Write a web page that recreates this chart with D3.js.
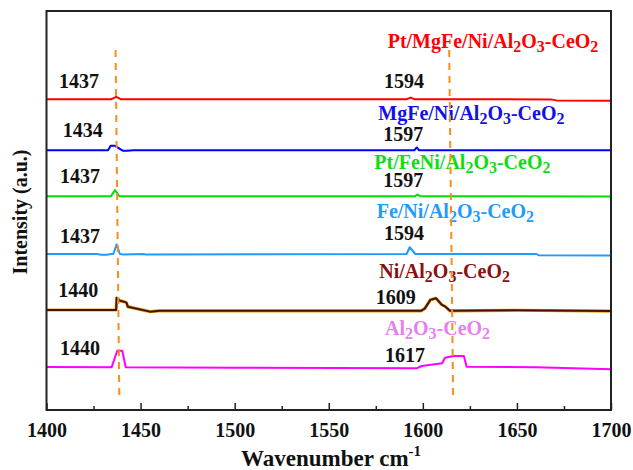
<!DOCTYPE html>
<html>
<head>
<meta charset="utf-8">
<script src="https://cdn.jsdelivr.net/npm/d3@7"></script>
<style>
  body { margin: 0; background: #fff; }
  svg text { font-family: "Liberation Serif", "DejaVu Serif", serif; font-weight: bold; }
</style>
</head>
<body>
<div id="chart"></div>
<script>
// wavenumber axis
const xTicks = [1400, 1450, 1500, 1550, 1600, 1650, 1700];
const xMinorTicks = [1425, 1475, 1525, 1575, 1625, 1675];

// spectra, [wavenumber, intensity (a.u., stacked)]
const ptMgFeNi = [[1400,77.9],[1434.5,77.9],[1437,78.5],[1439.5,77.9],[1591.5,77.9],[1593.5,78.3],[1595.5,77.9],[1668,77.85],[1671,77.6],[1700,77.5]];
const mgFeNi = [[1400,65.1],[1432.7,65.1],[1434.1,66.2],[1436.4,66.2],[1440.5,65.0],[1443,64.95],[1446,65.1],[1595.5,65.1],[1596.8,65.8],[1598,65.1],[1700,65.1]];
const ptFeNi = [[1400,53.6],[1434.3,53.6],[1436.4,55.1],[1438.7,53.6],[1596,53.6],[1597.2,54.0],[1598.5,53.6],[1700,53.5]];
const feNi = [[1400,39.1],[1426.7,39.1],[1429,38.9],[1432,38.9],[1434.5,39.1],[1435.5,39.1],[1437.3,41.5],[1439,39.1],[1441,39.0],[1451,39.1],[1453,39.0],[1591.4,39.1],[1593,40.8],[1596,39.1],[1660.4,39.1],[1661.5,38.8],[1700,38.75]];
const ni = [[1400,25.06],[1437,25.06],[1437.3,28.1],[1439,27.4],[1441.5,27.1],[1442.5,26.9],[1443.2,25.9],[1455,24.65],[1460,24.85],[1599,24.85],[1601,25.4],[1604,27.6],[1607,28.0],[1610,26.4],[1612,25.9],[1614.4,24.85],[1650,25.0],[1700,24.8]];
const alCe = [[1400,10.78],[1434.6,10.7],[1437.6,14.86],[1440.3,14.86],[1442.1,10.7],[1500,10.6],[1596.7,10.45],[1599.4,11.03],[1610.3,11.7],[1611.8,13.1],[1616.2,13.53],[1621.8,13.53],[1623.3,10.85],[1660,10.7],[1700,10.2]];

const seriesData = [ptMgFeNi, mgFeNi, ptFeNi, feNi, ni, alCe];
const seriesNames = [
  ["Pt/MgFe/Ni/Al", "2", "O", "3", "-CeO", "2"],
  ["MgFe/Ni/Al", "2", "O", "3", "-CeO", "2"],
  ["Pt/FeNi/Al", "2", "O", "3", "-CeO", "2"],
  ["Fe/Ni/Al", "2", "O", "3", "-CeO", "2"],
  ["Ni/Al", "2", "O", "3", "-CeO", "2"],
  ["Al", "2", "O", "3", "-CeO", "2"]
];
const leftPeaks = ["1437", "1434", "1437", "1437", "1440", "1440"];
const rightPeaks = ["1594", "1597", "1597", "1594", "1609", "1617"];

// guide lines: wavenumber at top / bottom
const guideTop = [1436.7, 1614];
const guideBottom = [1438.7, 1616.1];
const guideY = [90.2, 3.3];

const lineColors = ["#ff0000", "#0000ff", "#00e000", "#1e9bff", "#4a1000", "#ff00ff"];
const nameColors = ["#ff0000", "#1010e8", "#10dd10", "#1e9bff", "#8b1010", "#e67ff0"];

// layout of annotations (pixels)
const leftPos = [[59,88],[62.7,136.7],[60,182.7],[60,242.7],[58.3,296.7],[60,355]];
const rightPos = [[384,87.7],[383.3,140.7],[383.3,187],[384,240],[375.7,304],[385,361.7]];
const namePos = [[387.7,48.3],[378.3,120],[374.3,169],[376.7,218.3],[379.3,278.3],[385,335]];

const serif = "Liberation Serif, DejaVu Serif, serif";
const width = 633, height = 470;
const margin = {top: 11, right: 22, bottom: 60, left: 46.5};

const svg = d3.select("#chart").append("svg")
  .attr("width", width)
  .attr("height", height)
  .attr("viewBox", [0, 0, width, height])
  .attr("font-family", serif)
  .attr("font-weight", "bold");

const x = d3.scaleLinear([1400, 1700], [margin.left, width - margin.right]);
const y = d3.scaleLinear([0, 100], [height - margin.bottom, margin.top]);

const line = d3.line().x(d => x(d[0])).y(d => y(d[1]));

// spectra
seriesData.forEach((s, i) => {
  if (i === 4) {
    svg.append("path").attr("d", line(s)).attr("fill", "none")
      .attr("stroke", "#d9a21a").attr("stroke-width", 3.2).attr("stroke-linejoin", "round");
  }
  svg.append("path")
    .attr("d", line(s))
    .attr("fill", "none")
    .attr("stroke", lineColors[i])
    .attr("stroke-width", 2)
    .attr("stroke-linejoin", "round");
});

// peak numbers
svg.selectAll(".lp").data(leftPeaks).join("text")
  .attr("x", (d, i) => leftPos[i][0]).attr("y", (d, i) => leftPos[i][1])
  .attr("font-size", 20).attr("fill", "#111").text(d => d);
svg.selectAll(".rp").data(rightPeaks).join("text")
  .attr("x", (d, i) => rightPos[i][0]).attr("y", (d, i) => rightPos[i][1])
  .attr("font-size", 20).attr("fill", "#111").text(d => d);

// sample names with subscripts
seriesNames.forEach((parts, i) => {
  const t = svg.append("text")
    .attr("x", namePos[i][0]).attr("y", namePos[i][1])
    .attr("font-size", 20).attr("fill", nameColors[i]);
  parts.forEach((p, j) => {
    const sub = j % 2 === 1;
    t.append("tspan")
      .attr("font-size", sub ? 16 : 20)
      .attr("dy", sub ? 3.5 : (j > 0 ? -3.5 : 0))
      .text(p);
  });
});

// dashed guides
guideTop.forEach((g, i) => {
  svg.append("line")
    .attr("x1", x(g)).attr("y1", y(guideY[0]))
    .attr("x2", x(guideBottom[i])).attr("y2", y(guideY[1]))
    .attr("stroke", "#ff8c1a").attr("stroke-width", 2)
    .attr("stroke-dasharray", "7,6");
});

// frame
svg.append("rect")
  .attr("x", margin.left).attr("y", margin.top)
  .attr("width", width - margin.left - margin.right)
  .attr("height", height - margin.top - margin.bottom)
  .attr("fill", "none").attr("stroke", "#222").attr("stroke-width", 2);

// x axis (ticks inside)
const xAxis = d3.axisBottom(x).tickValues(xTicks).tickFormat(d3.format("d"))
  .tickSizeInner(-7).tickSizeOuter(0).tickPadding(13);
svg.append("g")
  .attr("transform", `translate(0,${height - margin.bottom})`)
  .call(xAxis)
  .call(g => g.select(".domain").remove())
  .call(g => g.attr("font-family", serif).attr("font-size", 20))
  .call(g => g.selectAll(".tick line").attr("stroke", "#222").attr("stroke-width", 1.5))
  .call(g => g.selectAll(".tick text").attr("fill", "#111"));
svg.append("g")
  .attr("transform", `translate(0,${height - margin.bottom})`)
  .call(d3.axisBottom(x).tickValues(xMinorTicks).tickSizeInner(-4).tickSizeOuter(0).tickFormat(""))
  .call(g => g.select(".domain").remove())
  .call(g => g.selectAll(".tick line").attr("stroke", "#222").attr("stroke-width", 1.5));

// axis titles
const xt = svg.append("text")
  .attr("x", 331).attr("y", 466)
  .attr("text-anchor", "middle").attr("font-size", 23).attr("fill", "#111");
xt.append("tspan").text("Wavenumber cm");
xt.append("tspan").attr("font-size", 15).attr("dy", -10).text("-1");

svg.append("text")
  .attr("transform", "translate(27,212) rotate(-90)")
  .attr("text-anchor", "middle").attr("font-size", 20).attr("fill", "#111")
  .text("Intensity (a.u.)");
</script>
</body>
</html>
